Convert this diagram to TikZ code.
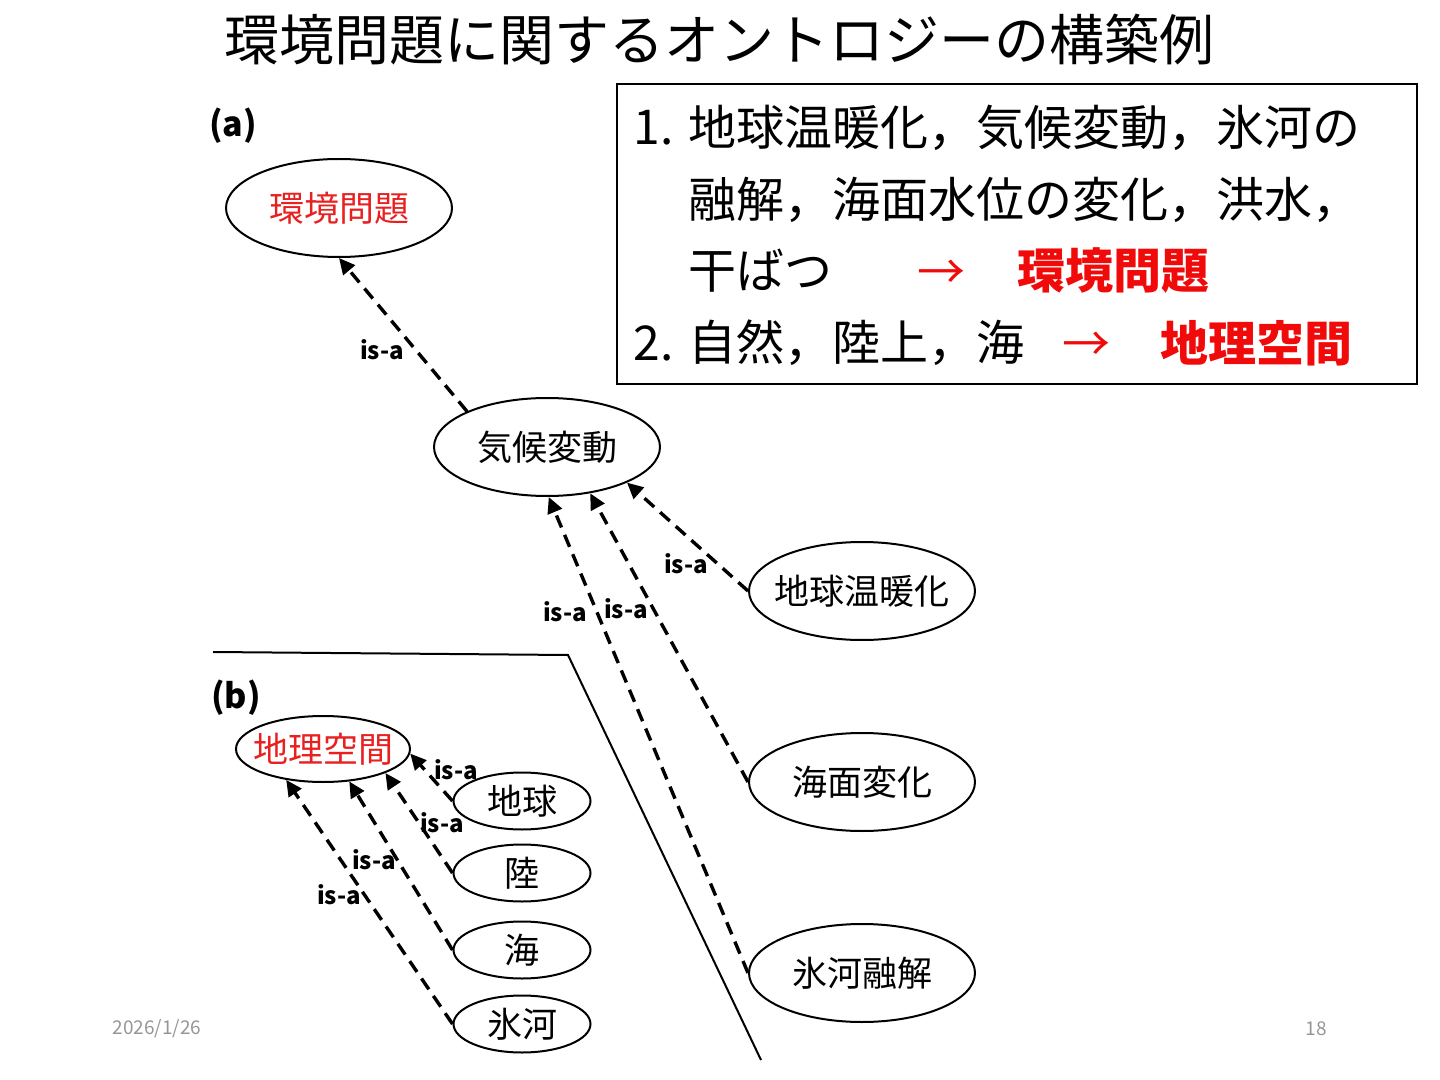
\documentclass[tikz,border=0pt]{standalone}
\usepackage{fontspec}
\setmainfont{Noto Sans CJK JP}
\usetikzlibrary{positioning,arrows.meta,shapes.geometric}
\definecolor{hlred}{RGB}{232,32,32}
\definecolor{boxred}{RGB}{240,10,10}
\definecolor{footgray}{RGB}{150,150,150}
% text inside an oval without widening it
\newcommand{\ovaltext}[1]{\makebox[0pt]{#1}}

\begin{document}
\begin{tikzpicture}[x=0.5pt, y=-0.5pt,
    concept/.style={draw, ellipse, line width=1pt, inner sep=0pt, font=\fontsize{17.5}{20}\selectfont},
    wide/.style={minimum width=113pt, minimum height=49pt},
    small/.style={minimum width=68.5pt, minimum height=28.5pt},
    isa/.style={line width=1.7pt, dash pattern=on 6.5pt off 4pt, -{Triangle[length=8pt,width=7.5pt]}},
    isalabel/.style={inner sep=0pt, font=\bfseries\fontsize{12}{14}\selectfont},
    listtext/.style={anchor=west, inner sep=0pt, font=\fontsize{24}{28}\selectfont}]
  \useasboundingbox (0,0) rectangle (1440,1080);

  \node[font=\fontsize{27.5}{32}\selectfont] (title) at (719,40) {環境問題に関するオントロジーの構築例};

  % (a)
  \node[font=\bfseries\fontsize{17}{20}\selectfont] (parta) at (233,126) {(a)};
  \node[concept, wide, text=hlred] (env) at (339,208) {\ovaltext{環境問題}};
  \node[concept, wide] (kikou) at (547,447) {\ovaltext{気候変動}};
  \node[concept, wide] (ondanka) at (862,591) {\ovaltext{地球温暖化}};
  \node[concept, wide, below=45.5pt of ondanka] (kaimen) {\ovaltext{海面変化}};
  \node[concept, wide, below=45.5pt of kaimen] (yuukai) {\ovaltext{氷河融解}};

  \draw[isa] (kikou.156) -- (env.south);
  \draw[isa] (ondanka.west) -- (kikou.-24);
  \draw[isa] (kaimen.west) -- (kikou.-47);
  \draw[isa] (yuukai.west) -- (kikou.-88);
  \node[isalabel] (la1) at (382,350) {is-a};
  \node[isalabel] (la2) at (686,564) {is-a};
  \node[isalabel] (la3) at (626,609) {is-a};
  \node[isalabel] (la4) at (565,612) {is-a};

  % separator
  \coordinate (sepa) at (213,652);
  \coordinate (sepb) at (568,655);
  \coordinate (sepc) at (761,1060);
  \draw[line width=1pt] (sepa) -- (sepb) -- (sepc);

  % (b)
  \node[font=\bfseries\fontsize{17}{20}\selectfont] (partb) at (236,698) {(b)};
  \node[concept, minimum width=87pt, minimum height=33pt, text=hlred] (geo) at (323,749) {\ovaltext{地理空間}};
  \node[concept, small] (chikyu) at (522,801) {\ovaltext{地球}};
  \node[concept, small, below=6.5pt of chikyu] (riku) {\ovaltext{陸}};
  \node[concept, small, below=9pt of riku] (umi) {\ovaltext{海}};
  \node[concept, small, below=7.5pt of umi] (hyouga) {\ovaltext{氷河}};

  \draw[isa] (chikyu.west) -- (geo.-3);
  \draw[isa] (riku.west) -- (geo.-21);
  \draw[isa] (umi.west) -- (geo.-51);
  \draw[isa] (hyouga.west) -- (geo.-140);
  \node[isalabel] (lb1) at (456,770) {is-a};
  \node[isalabel] (lb2) at (442,823) {is-a};
  \node[isalabel] (lb3) at (374,860) {is-a};
  \node[isalabel] (lb4) at (339,895) {is-a};

  % list box
  \node[draw, line width=1pt, minimum width=400pt, minimum height=150pt, inner sep=0pt] (listbox) at (1017,234) {};
  \node[listtext] (num1) at (633,128) {1.};
  \node[listtext] (row1) at (688,128) {地球温暖化，気候変動，氷河の};
  \node[listtext] (row2) at (688,200) {融解，海面水位の変化，洪水，};
  \node[listtext] (row3) at (688,271) {干ばつ};
  \node[listtext, text=boxred] (arr1) at (917,275) {→};
  \node[listtext, text=boxred, font=\bfseries\fontsize{24}{28}\selectfont] (res1) at (1017,271) {環境問題};
  \node[listtext] (num2) at (633,343) {2.};
  \node[listtext] (row4) at (688,343) {自然，陸上，海};
  \node[listtext, text=boxred] (arr2) at (1062,347) {→};
  \node[listtext, text=boxred, font=\bfseries\fontsize{24}{28}\selectfont] (res2) at (1160,343) {地理空間};

  % footer
  \node[text=footgray, font=\fontsize{9.5}{11}\selectfont] (date) at (157,1029) {2026/1/26};
  \node[text=footgray, font=\fontsize{9.5}{11}\selectfont] (page) at (1316,1029) {18};
\end{tikzpicture}
\end{document}
